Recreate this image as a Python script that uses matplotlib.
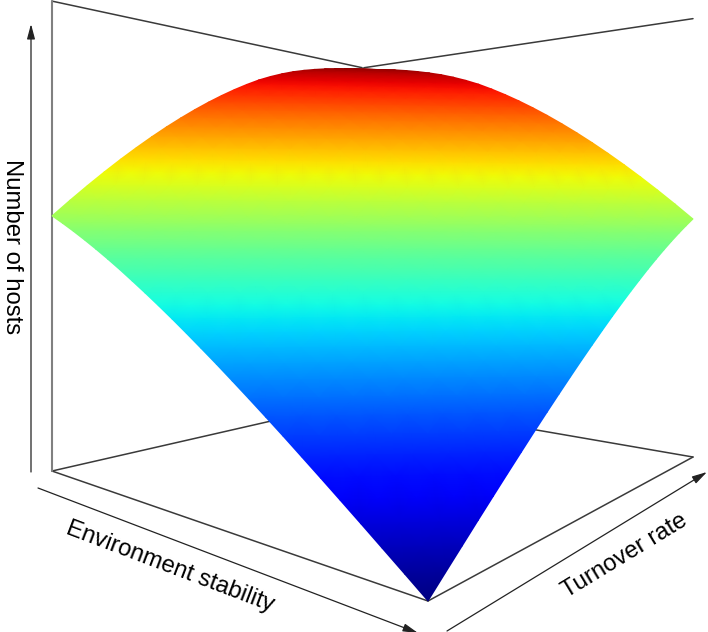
import matplotlib as mpl
mpl.use('Agg')
import matplotlib.pyplot as plt
import numpy as np

plt.rcParams['font.family'] = ['Liberation Sans', 'DejaVu Sans']

# levels on the two floor axes, both scaled 0-1
stability = np.linspace(0, 1, 25)
turnover = np.linspace(0, 1, 25)

# number of hosts (scaled 0-1). the height only changes
# with (turnover level - stability level), so one list covers the whole surface
hosts_low = [.0000, .0270, .0537, .0804, .1068, .1330, .1589, .1847, .2099, .2348, .2593, .2835,
             .3070, .3302, .3529, .3749, .3963, .4171, .4375, .4570, .4758, .4938, .5110, .5274]
hosts_high = [.5430, .5775, .6108, .6429, .6738, .7033, .7316, .7586, .7842, .8085, .8314, .8529, .8730,
              .8916, .9088, .9235, .9365, .9480, .9575, .9660, .9735, .9800, .9855, .9905, .9950]

x_label = "Environment stability"
y_label = "Turnover rate"
z_label = "Number of hosts"


# perspective view of the unit box, gives pixel positions
def project(stab, turn, z):
    back = 1 - stab
    w = 1 + .5216 * back + .631 * turn
    px = (428 - 348.9 * back + 702.3 * turn) / w
    py = (601 + 115.7 * back + 144.4 * turn - 715 * z) / w
    return px, py


def box_line(ax, start, end, color, width):
    x0, y0 = project(*start)
    x1, y1 = project(*end)
    ax.plot([x0, x1], [y0, y1], color=color, lw=width, solid_capstyle='round', zorder=1)


def arrow(ax, start, end):
    ax.annotate("", xy=end, xytext=start, annotation_clip=False,
                arrowprops=dict(arrowstyle='-|>,head_length=0.75,head_width=0.2',
                                color='#222222', lw=0.9, shrinkA=0, shrinkB=0,
                                mutation_scale=12))


def main():
    levels = np.array(hosts_low + hosts_high)
    rows = len(stability)
    hosts = np.array([[levels[rows - 1 - i + j] for j in range(rows)] for i in range(rows)])

    fig = plt.figure(figsize=(7.08, 6.32), dpi=100)
    ax = fig.add_axes([0, 0, 1, 1])
    ax.set_xlim(0, 708)
    ax.set_ylim(632, 0)
    ax.axis('off')

    # back of the box, drawn first so the surface hides it
    for start, end in [((1, 0, 0), (0, 0, 0)), ((1, 1, 0), (1, 0, 0)),
                       ((0, 0, 0), (0, 1, 0)), ((0, 1, 0), (1, 1, 0)),
                       ((0, 0, 1), (0, 1, 1)), ((0, 1, 1), (1, 1, 1))]:
        box_line(ax, start, end, '#3a3a3a', 1.1)
    box_line(ax, (0, 0, 0), (0, 0, 1), '#808080', 1.5)
    box_line(ax, (0, 1, 0), (0, 1, 1), '#808080', 1.5)

    ss, tt = np.meshgrid(stability, turnover, indexing='ij')
    px, py = project(ss, tt, hosts)
    ax.pcolormesh(px, py, hosts, shading='gouraud', cmap='jet', vmin=0, vmax=1, zorder=2)

    arrow(ax, (31, 472), (31, 24))
    arrow(ax, (38, 488), (418, 633))
    arrow(ax, (447, 631), (707, 472))

    ax.text(12, 247, z_label, rotation=-90, ha='center', va='center', fontsize=17.2, color='black')
    ax.text(170, 567, x_label, rotation=-20.8, ha='center', va='center',
            rotation_mode='anchor', fontsize=17.2, color='black')
    ax.text(625, 556, y_label, rotation=31.3, ha='center', va='center',
            rotation_mode='anchor', fontsize=17.2, color='black')

    plt.savefig("out.png", dpi=100)


if __name__ == "__main__":
    main()
